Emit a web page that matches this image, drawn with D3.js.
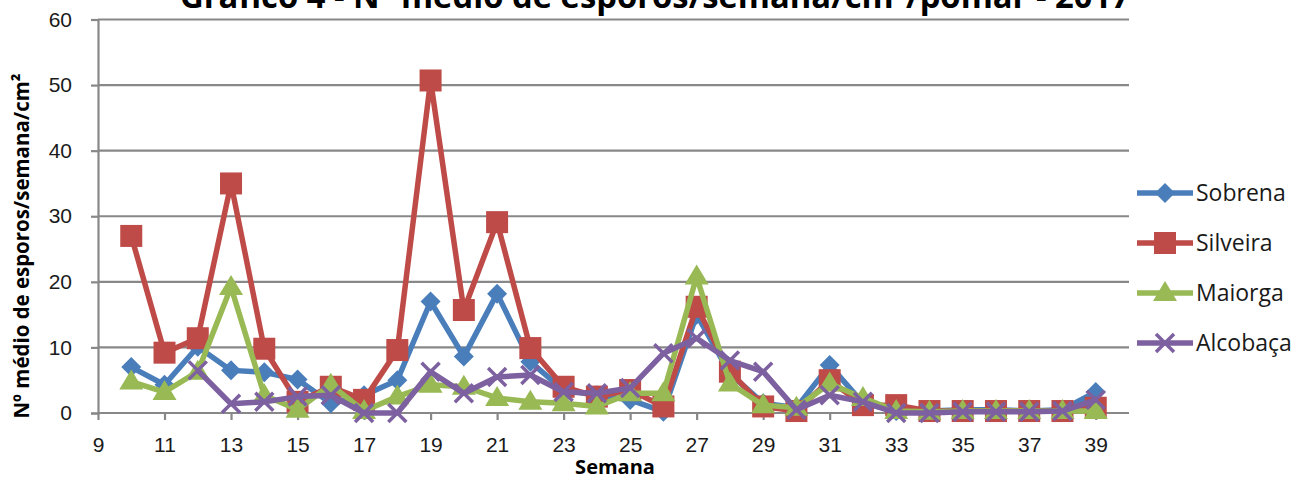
<!DOCTYPE html>
<html>
<head>
<meta charset="utf-8">
<script src="https://cdn.jsdelivr.net/npm/d3@7"></script>
<style>
  body { margin: 0; background: #fff; }
  svg { font-family: "Open Sans", "Noto Sans", sans-serif; }
</style>
</head>
<body>
<div id="chart"></div>
<script>
const weeks = d3.range(10, 40);
const sobrena = [7, 4.3, 10.1, 6.5, 6.2, 5.1, 1.5, 2.7, 5, 17, 8.6, 18.2, 7.8, 3.5, 2.7, 2, 0.2, 15, 6, 1.5, 0.8, 7.3, 1.5, 0.3, 0.3, 0.5, 0.5, 0.3, 0.5, 3.2];
const silveira = [27, 9.2, 11.4, 35, 9.8, 1.7, 4, 2, 9.6, 50.7, 15.7, 29.1, 9.9, 4, 2.5, 3.5, 1, 16.2, 6.3, 1, 0.3, 5, 1.2, 1.2, 0.3, 0.3, 0.3, 0.3, 0.3, 0.8];
const maiorga = [4.8, 3.2, 6.3, 19.2, 2.7, 0.5, 4.3, 0.3, 2.5, 4.3, 4, 2.3, 1.7, 1.5, 1, 3, 3, 20.8, 4.5, 1.2, 0.8, 4.5, 2.3, 0.3, 0.2, 0.3, 0.3, 0.3, 0.3, 0.3];
const alcobaca = [null, null, 6.5, 1.4, 1.7, 2.5, 2.7, 0, 0, 6.3, 3, 5.5, 5.8, 3.2, 3, 3.8, 9.1, 11.4, 8, 6.3, 0.5, 2.7, 1.7, 0, 0, 0.2, 0.2, 0.2, 0.3, 2];
const seriesNames = ["Sobrena", "Silveira", "Maiorga", "Alcobaça"];
const seriesValues = [sobrena, silveira, maiorga, alcobaca];
const xTicks = d3.range(9, 40, 2);
const yTicks = d3.range(0, 61, 10);

const colors = ["#4A7EBB", "#BE4B48", "#98B954", "#7D60A0"];
const shapes = ["diamond", "square", "triangle", "cross"];

const svg = d3.select("#chart").append("svg")
  .attr("width", 1300).attr("height", 479);

const x = d3.scaleLinear().domain([9, 40]).range([98, 1129]);
const y = d3.scaleLinear().domain([0, 60]).range([413, 19.5]);

// gridlines
svg.append("g")
  .selectAll("line")
  .data(yTicks.filter(d => d > 0))
  .join("line")
  .attr("x1", x(9)).attr("x2", x(40))
  .attr("y1", d => y(d)).attr("y2", d => y(d))
  .attr("stroke", "#888").attr("stroke-width", 2.2);

// axes
const yAxis = svg.append("g")
  .attr("transform", `translate(${x(9)},0)`)
  .call(d3.axisLeft(y).tickValues(yTicks).tickSize(7).tickPadding(19));
const xAxis = svg.append("g")
  .attr("transform", `translate(0,${y(0)})`)
  .call(d3.axisBottom(x).tickValues(xTicks).tickSize(7).tickPadding(17));

[xAxis, yAxis].forEach(a => {
  a.select(".domain").attr("stroke", "#888").attr("stroke-width", 2.2);
  a.selectAll(".tick line").attr("stroke", "#888").attr("stroke-width", 2.2);
  a.selectAll(".tick text").attr("fill", "#1a1a1a").style("font-size", "21px");
});
xAxis.select(".domain").attr("d", `M${x(9)},0H${x(40)}`);

function marker(g, shape, color) {
  if (shape === "diamond") {
    g.append("path").attr("d", "M0,-10L10,0L0,10L-10,0Z").attr("fill", color);
  } else if (shape === "square") {
    g.append("rect").attr("x", -11).attr("y", -11).attr("width", 22).attr("height", 22).attr("fill", color);
  } else if (shape === "triangle") {
    g.append("path").attr("d", "M0,-12L12,8L-12,8Z").attr("fill", color);
  } else {
    g.append("path").attr("d", "M-9,-9L9,9M-9,9L9,-9")
      .attr("stroke", color).attr("stroke-width", 3.5).attr("fill", "none");
  }
}

const line = d3.line()
  .defined(d => d.v !== null)
  .x(d => x(d.w))
  .y(d => y(d.v));

seriesValues.forEach((vals, i) => {
  const pts = weeks.map((w, j) => ({ w: w, v: vals[j] }));
  const g = svg.append("g");
  g.append("path")
    .datum(pts)
    .attr("d", line)
    .attr("fill", "none")
    .attr("stroke", colors[i])
    .attr("stroke-width", 5.5)
    .attr("stroke-linejoin", "round");
  g.selectAll("g.m")
    .data(pts.filter(d => d.v !== null))
    .join("g")
    .attr("class", "m")
    .attr("transform", d => `translate(${x(d.w)},${y(d.v)})`)
    .each(function () { marker(d3.select(this), shapes[i], colors[i]); });
});

// legend
const legend = svg.append("g").attr("transform", "translate(1137,193)");
seriesNames.forEach((name, i) => {
  const row = legend.append("g").attr("transform", `translate(0,${i * 50})`);
  row.append("line").attr("x1", 0).attr("x2", 56).attr("y1", 0).attr("y2", 0)
    .attr("stroke", colors[i]).attr("stroke-width", 5.5);
  marker(row.append("g").attr("transform", "translate(28,0)"), shapes[i], colors[i]);
  row.append("text").attr("x", 59).attr("y", 8)
    .style("font-size", "23px").attr("fill", "#1a1a1a").text(name);
});

// title (cut at top)
svg.append("text")
  .attr("x", 655).attr("y", 8)
  .attr("text-anchor", "middle")
  .attr("textLength", 950).attr("lengthAdjust", "spacingAndGlyphs")
  .style("font-size", "32px").style("font-weight", "bold")
  .text("Gráfico 4 - Nº médio de esporos/semana/cm²/pomar - 2017");

svg.append("text")
  .attr("x", 615).attr("y", 474)
  .attr("text-anchor", "middle")
  .style("font-size", "20px").style("font-weight", "bold")
  .text("Semana");

svg.append("text")
  .attr("transform", "translate(29,246) rotate(-90)")
  .attr("text-anchor", "middle")
  .attr("textLength", 345).attr("lengthAdjust", "spacingAndGlyphs")
  .style("font-size", "21px").style("font-weight", "bold")
  .text("Nº  médio de esporos/semana/cm²");
</script>
</body>
</html>
